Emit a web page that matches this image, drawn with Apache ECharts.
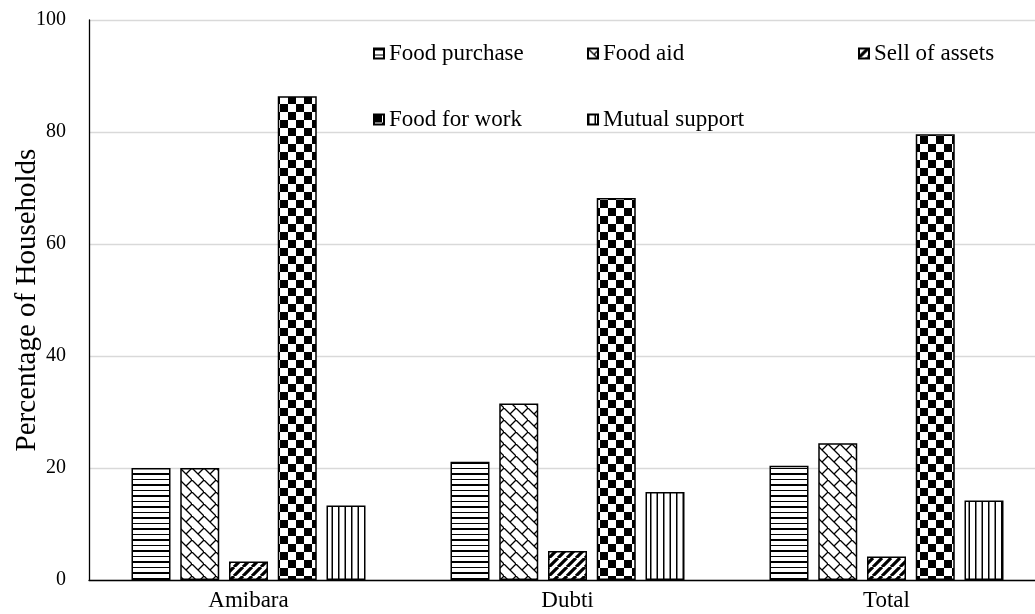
<!DOCTYPE html>
<html>
<head>
<meta charset="utf-8">
<script src="https://cdn.jsdelivr.net/npm/echarts@6/dist/echarts.min.js"></script>
<style>
  html, body { margin: 0; padding: 0; background: #fff; }
  #chart { width: 1035px; height: 614px; }
</style>
</head>
<body>
<div id="chart"></div>
<script>
const sites = ["Amibara", "Dubti", "Total"];
const seriesNames = ["Food purchase", "Food aid", "Sell of assets", "Food for work", "Mutual support"];
const foodPurchase = [20.0, 21.1, 20.4];
const foodAid = [20.0, 31.5, 24.4];
const sellOfAssets = [3.3, 5.2, 4.2];
const foodForWork = [86.4, 68.2, 79.6];
const mutualSupport = [13.3, 15.7, 14.2];
const yTicks = [0, 20, 40, 60, 80, 100];

// hatch fills, drawn once on small canvases
function tile(w, h, draw) {
  const c = document.createElement("canvas");
  c.width = w;
  c.height = h;
  const ctx = c.getContext("2d");
  ctx.fillStyle = "#fff";
  ctx.fillRect(0, 0, w, h);
  ctx.fillStyle = "#000";
  ctx.strokeStyle = "#000";
  draw(ctx);
  return { image: c, repeat: "repeat" };
}

const patterns = {
  "Food purchase": tile(4, 11, (ctx) => {
    ctx.fillRect(0, 0, 4, 2);
    ctx.fillRect(0, 6, 4, 1);
  }),
  "Food aid": tile(12, 12, (ctx) => {
    ctx.lineWidth = 1.3;
    ctx.beginPath();
    ctx.moveTo(-1, -1); ctx.lineTo(13, 13);
    ctx.moveTo(6, 6); ctx.lineTo(12, 0);
    ctx.stroke();
  }),
  "Sell of assets": tile(9, 9, (ctx) => {
    ctx.lineWidth = 3.2;
    ctx.beginPath();
    for (let k = -1; k <= 1; k++) {
      ctx.moveTo(k * 9, 9); ctx.lineTo(k * 9 + 9, 0);
    }
    ctx.stroke();
  }),
  "Food for work": tile(16, 16, (ctx) => {
    ctx.fillRect(0, 0, 8, 8);
    ctx.fillRect(8, 8, 8, 8);
  }),
  "Mutual support": tile(13, 4, (ctx) => {
    ctx.fillRect(0, 0, 1.5, 4);
    ctx.fillRect(6.5, 0, 1.5, 4);
  }),
};

const values = [foodPurchase, foodAid, sellOfAssets, foodForWork, mutualSupport];
const serif = "'Liberation Serif', 'Times New Roman', serif";

const legendSpots = [
  { left: 373, top: 42 },
  { left: 587, top: 42 },
  { left: 858, top: 42 },
  { left: 373, top: 108 },
  { left: 587, top: 108 },
];

const chart = echarts.init(document.getElementById("chart"), null, { renderer: "canvas" });

chart.setOption({
  animation: false,
  backgroundColor: "#fff",
  grid: { left: 89, right: -11, top: 20, bottom: 34, outerBoundsMode: "none", containLabel: false },
  legend: seriesNames.map((name, i) => ({
    data: [name],
    left: legendSpots[i].left,
    top: legendSpots[i].top,
    padding: 0,
    icon: "rect",
    itemWidth: 10,
    itemHeight: 10,
    itemGap: 6,
    selectedMode: false,
    textStyle: { fontFamily: serif, fontSize: 23, color: "#000" },
  })),
  xAxis: {
    type: "category",
    data: sites,
    axisLine: { lineStyle: { color: "#000", width: 1.3 } },
    axisTick: { show: false },
    axisLabel: { fontFamily: serif, fontSize: 23, color: "#000", margin: 9 },
  },
  yAxis: {
    type: "value",
    min: 0,
    max: 100,
    interval: 20,
    name: "Percentage of Households",
    nameLocation: "middle",
    nameGap: 47,
    nameMoveOverlap: false,
    nameTextStyle: { fontFamily: serif, fontSize: 29, color: "#000" },
    axisLine: { show: true, lineStyle: { color: "#000", width: 1.3 } },
    axisTick: { show: false },
    axisLabel: {
      fontFamily: serif,
      fontSize: 20,
      color: "#000",
      margin: 23,
      formatter: (v) => (yTicks.includes(v) ? String(v) : ""),
    },
    splitLine: { lineStyle: { color: "#d9d9d9", width: 1.3 } },
  },
  series: seriesNames.map((name, i) => ({
    name: name,
    type: "bar",
    data: values[i],
    barWidth: 39,
    barGap: "25%",
    itemStyle: {
      color: patterns[name],
      borderColor: "#000",
      borderWidth: 1.5,
    },
  })),
});
</script>
</body>
</html>
